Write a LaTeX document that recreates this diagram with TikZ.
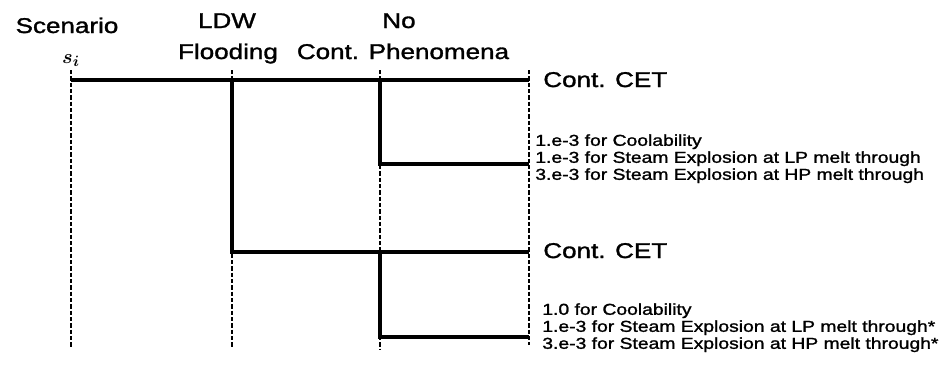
\documentclass[tikz,border=0pt]{standalone}
\usepackage{fontspec}
\setmainfont[FakeStretch=1.22, UprightFeatures={FakeBold=1.4}]{Liberation Sans}
\begin{document}
\begin{tikzpicture}[x=0.6pt, y=-0.6pt,
    head/.style={font=\fontsize{12.8}{15}\selectfont, anchor=base, inner sep=0pt},
    outcome/.style={font=\fontsize{12.8}{15}\selectfont, anchor=base west, inner sep=0pt},
    note/.style={font=\fontsize{9.5}{10.2}\selectfont, anchor=north west, align=left, inner sep=0pt},
    branch/.style={line width=2.6pt},
    guide/.style={line width=0.7pt, dash pattern=on 2.6pt off 1.2pt}]
    \useasboundingbox (0,0) rectangle (948,376);

    % column headings
    \node[head] (scen) at (67, 33) {Scenario};
    \node[head, font=\fontsize{13}{15}\selectfont\boldmath] (si) at (71, 63) {$s_i$};
    \node[head] (ldw) at (227, 28) {LDW};
    \node[head] (flood) at (228, 59) {Flooding};
    \node[head] (no) at (399, 28) {No};
    \node[head] (phen) at (403, 59) {Cont. Phenomena};

    % vertical guides
    \foreach \x/\b in {71/347, 232/347, 380/349, 529/345}
        \draw[guide] (\x, 70) -- (\x, \b);

    % branch points
    \coordinate (S) at (71, 80);
    \coordinate (L) at (232, 80);
    \coordinate (N) at (380, 80);
    \coordinate (E) at (529, 80);
    \coordinate (E1) at (529, 164);
    \coordinate (N2) at (380, 252);
    \coordinate (E2) at (529, 252);
    \coordinate (E3) at (529, 337);

    \draw[branch] (S) -- (E);
    \draw[branch] (N) |- (E1);
    \draw[branch] (L) |- (E2);
    \draw[branch] (N2) |- (E3);

    % end states
    \node[outcome] (cet1) at (543, 87) {Cont. CET};
    \node[outcome] (cet2) at (543, 258) {Cont. CET};
    \node[note] (up) at (535, 134) {1.e-3 for Coolability\\1.e-3 for Steam Explosion at LP melt through\\3.e-3 for Steam Explosion at HP melt through};
    \node[note] (low) at (542, 303) {1.0 for Coolability\\1.e-3 for Steam Explosion at LP melt through*\\3.e-3 for Steam Explosion at HP melt through*};
\end{tikzpicture}
\end{document}
